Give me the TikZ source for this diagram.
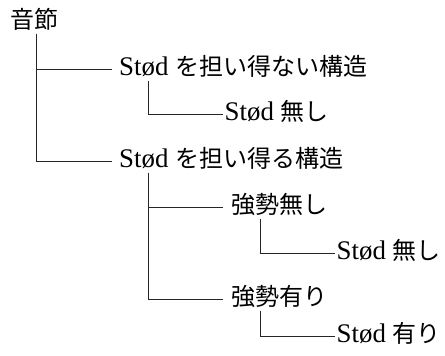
\documentclass[tikz,border=0pt]{standalone}
\usepackage{fontspec}
\setmainfont{Liberation Serif}[Scale=1.12]
\newfontfamily\jp{Noto Sans CJK JP}
\begin{document}
\begin{tikzpicture}[x=1pt,y=-1pt,
  lbl/.style={anchor=west,inner ysep=0pt,text height=18pt,text depth=5pt,
    font=\fontsize{24}{28}\selectfont},
  conn/.style={draw=black!85,line width=0.8pt}]
\useasboundingbox (0,0) rectangle (445,356);
\node[lbl,inner xsep=0pt] (root) at (10,22) {\jp 音節};
\node[lbl,inner xsep=7pt] (a) at (112,69) {Stød {\jp を担い得ない構造}};
\node[lbl,inner xsep=1.5pt] (a1) at (223,114) {Stød {\jp 無し}};
\node[lbl,inner xsep=7pt] (b) at (112,161) {Stød {\jp を担い得る構造}};
\node[lbl,inner xsep=8pt] (b1) at (223,207) {\jp 強勢無し};
\node[lbl,inner xsep=1.5pt] (b1a) at (335,253) {Stød {\jp 無し}};
\node[lbl,inner xsep=8pt] (b2) at (223,299) {\jp 強勢有り};
\node[lbl,inner xsep=1.5pt] (b2a) at (335,336) {Stød {\jp 有り}};
\draw[conn] ([xshift=26pt]root.south west) |- (a.west);
\draw[conn] ([xshift=26pt]root.south west) |- (b.west);
\draw[conn] ([xshift=36pt]a.south west) |- (a1.west);
\draw[conn] ([xshift=36pt]b.south west) |- (b1.west);
\draw[conn] ([xshift=36pt]b.south west) |- (b2.west);
\draw[conn] ([xshift=37pt]b1.south west) |- (b1a.west);
\draw[conn] ([xshift=37pt]b2.south west) |- (b2a.west);
\end{tikzpicture}
\end{document}
